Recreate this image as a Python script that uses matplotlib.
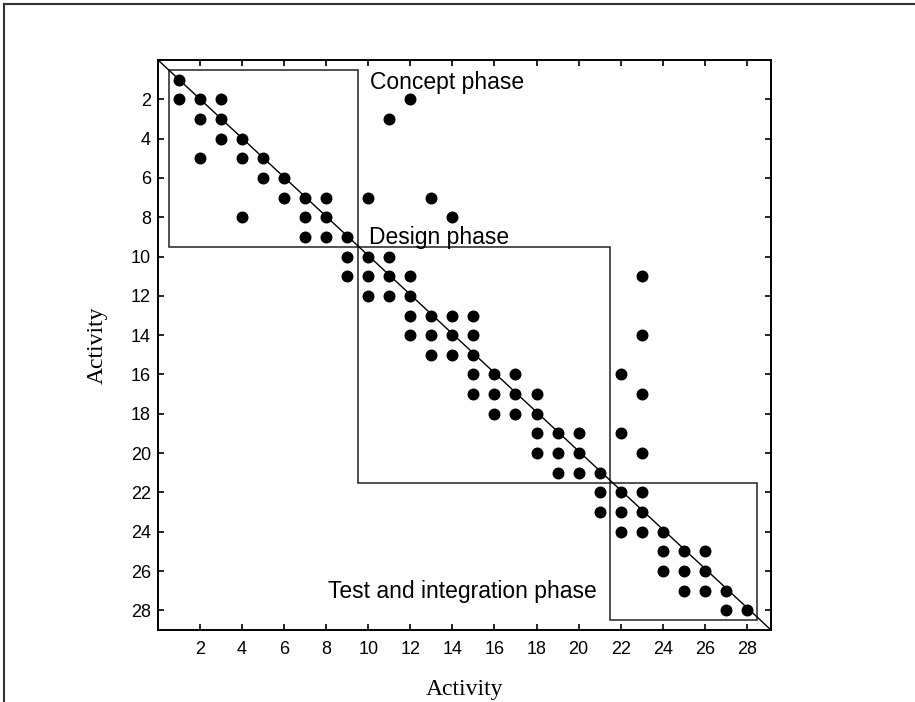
import matplotlib
matplotlib.use("Agg")
import matplotlib.pyplot as plt
from matplotlib.lines import Line2D
from matplotlib.patches import Rectangle

# dependency marks of the design structure matrix: (column, row) per activity pair
dep_cols = [1,
            1, 2, 3, 12,
            2, 3, 11,
            3, 4,
            2, 4, 5,
            5, 6,
            6, 7, 8, 10, 13,
            4, 7, 8, 14,
            7, 8, 9,
            9, 10, 11,
            9, 10, 11, 12, 23,
            10, 11, 12,
            12, 13, 14, 15,
            12, 13, 14, 15, 23,
            13, 14, 15,
            15, 16, 17, 22,
            15, 16, 17, 18, 23,
            16, 17, 18,
            18, 19, 20, 22,
            18, 19, 20, 23,
            19, 20, 21,
            21, 22, 23,
            21, 22, 23,
            22, 23, 24,
            24, 25, 26,
            24, 25, 26,
            25, 26, 27,
            27, 28]
dep_rows = [1,
            2, 2, 2, 2,
            3, 3, 3,
            4, 4,
            5, 5, 5,
            6, 6,
            7, 7, 7, 7, 7,
            8, 8, 8, 8,
            9, 9, 9,
            10, 10, 10,
            11, 11, 11, 11, 11,
            12, 12, 12,
            13, 13, 13, 13,
            14, 14, 14, 14, 14,
            15, 15, 15,
            16, 16, 16, 16,
            17, 17, 17, 17, 17,
            18, 18, 18,
            19, 19, 19, 19,
            20, 20, 20, 20,
            21, 21, 21,
            22, 22, 22,
            23, 23, 23,
            24, 24, 24,
            25, 25, 25,
            26, 26, 26,
            27, 27, 27,
            28, 28]

# phase blocks: label, first activity, last activity
phase_names = ["Concept phase", "Design phase", "Test and integration phase"]
phase_first = [1, 10, 22]
phase_last = [9, 21, 28]

ticks = list(range(2, 29, 2))

fig = plt.figure(figsize=(9.15, 7.02), dpi=100)
ax = fig.add_axes([158 / 915, 1 - 630 / 702, 613 / 915, 570 / 702])

ax.plot(dep_cols, dep_rows, "o", color="black", markersize=7.6, zorder=3)

# block outlines along the diagonal
for first, last in zip(phase_first, phase_last):
    ax.add_patch(Rectangle((first - 0.5, first - 0.5), last - first + 1, last - first + 1,
                           fill=False, edgecolor="#222222", lw=1.1, zorder=2))

ax.plot([0, 1], [1, 0], transform=ax.transAxes, color="black", lw=1.0, zorder=2)

sans = ["Liberation Sans", "DejaVu Sans"]
serif = ["Liberation Serif", "DejaVu Serif"]
ax.text(10.08, 1.46, phase_names[0], fontsize=16.5, family=sans, va="baseline", ha="left")
ax.text(10.03, 9.38, phase_names[1], fontsize=16.5, family=sans, va="baseline", ha="left")
ax.text(20.87, 27.38, phase_names[2], fontsize=16.5, family=sans, va="baseline", ha="right")

ax.set_xlim(0, 29.15)
ax.set_ylim(29, 0)
ax.set_xticks(ticks)
ax.set_yticks(ticks)
ax.tick_params(direction="in", length=4, width=1.2, top=True, right=True, labelsize=13)
ax.tick_params(axis="x", pad=8)
ax.tick_params(axis="y", pad=5)
for lab in ax.get_xticklabels() + ax.get_yticklabels():
    lab.set_family(sans)
for sp in ax.spines.values():
    sp.set_linewidth(1.4)

ax.set_xlabel("Activity", fontsize=17, family=serif, labelpad=15)
ax.set_ylabel("Activity", fontsize=17, family=serif, labelpad=17)

# scanned-page border on top and left
fig.add_artist(Line2D([4 / 915, 4 / 915], [0, 1 - 4 / 702], color="#333333", lw=1.5))
fig.add_artist(Line2D([4 / 915, 1], [1 - 4 / 702, 1 - 4 / 702], color="#333333", lw=1.5))

fig.savefig("out.png", dpi=100)
